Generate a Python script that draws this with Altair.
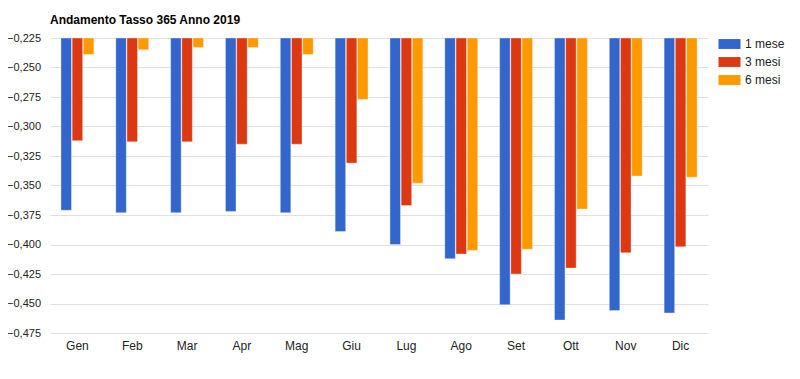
import altair as alt
import pandas as pd

mesi = ["Gen", "Feb", "Mar", "Apr", "Mag", "Giu", "Lug", "Ago", "Set", "Ott", "Nov", "Dic"]
serie = ["1 mese", "3 mesi", "6 mesi"]
uno_mese = [-0.371, -0.373, -0.373, -0.372, -0.373, -0.389, -0.400, -0.412, -0.451, -0.464, -0.456, -0.458]
tre_mesi = [-0.312, -0.313, -0.313, -0.315, -0.315, -0.331, -0.367, -0.408, -0.425, -0.420, -0.407, -0.402]
sei_mesi = [-0.239, -0.235, -0.233, -0.233, -0.239, -0.277, -0.348, -0.405, -0.404, -0.370, -0.342, -0.343]
colori = ["#3366CC", "#DC3912", "#FF9900"]
y_ticks = [-0.225, -0.25, -0.275, -0.3, -0.325, -0.35, -0.375, -0.4, -0.425, -0.45, -0.475]

rows = []
for s, vals in zip(serie, [uno_mese, tre_mesi, sei_mesi]):
    for m, v in zip(mesi, vals):
        rows.append({"mese": m, "serie": s, "valore": v})
df = pd.DataFrame(rows)

FONT = "Liberation Sans"

chart = alt.Chart(df).mark_bar(stroke="white", strokeOpacity=0.35, strokeWidth=1).encode(
    x=alt.X("mese:N", sort=mesi,
            scale=alt.Scale(paddingInner=0.4, paddingOuter=0.2),
            axis=alt.Axis(title=None, labelAngle=0, ticks=False, domain=False,
                          labelPadding=7, labelFontSize=12, labelColor="#222222",
                          labelFont=FONT)),
    xOffset=alt.XOffset("serie:N", sort=serie, scale=alt.Scale(paddingInner=0.06)),
    y=alt.Y("valore:Q",
            scale=alt.Scale(domain=[-0.475, -0.225], nice=False, zero=False),
            axis=alt.Axis(title=None, values=y_ticks, ticks=False, domain=False,
                          labelExpr="replace(format(datum.value, '.3f'), '.', ',')",
                          labelPadding=9.5, labelFontSize=11, labelColor="#222222",
                          labelFont=FONT, gridColor="#e0e0e0")),
    y2=alt.datum(-0.225),
    color=alt.Color("serie:N", sort=serie,
                    scale=alt.Scale(domain=serie, range=colori),
                    legend=alt.Legend(title=None, orient="none", legendX=673.5, legendY=0,
                                      symbolType="M-2,-0.9H2V0.9H-2Z", symbolSize=121,
                                      symbolStrokeWidth=0, symbolOpacity=1,
                                      labelOffset=9.5, rowPadding=6,
                                      labelFontSize=12, labelColor="#222222",
                                      labelFont=FONT)),
).properties(
    width=658,
    height=295,
    title=alt.TitleParams("Andamento Tasso 365 Anno 2019", anchor="start", frame="group",
                          dx=0, font=FONT, fontSize=12, fontWeight="bold",
                          color="#000000", offset=5),
    autosize=alt.AutoSizeParams(type="none"),
    padding={"left": 42, "top": 30, "right": 80, "bottom": 30},
).configure_view(stroke=None)

chart.save("out.html", embed_options={"renderer": "svg", "actions": False})
